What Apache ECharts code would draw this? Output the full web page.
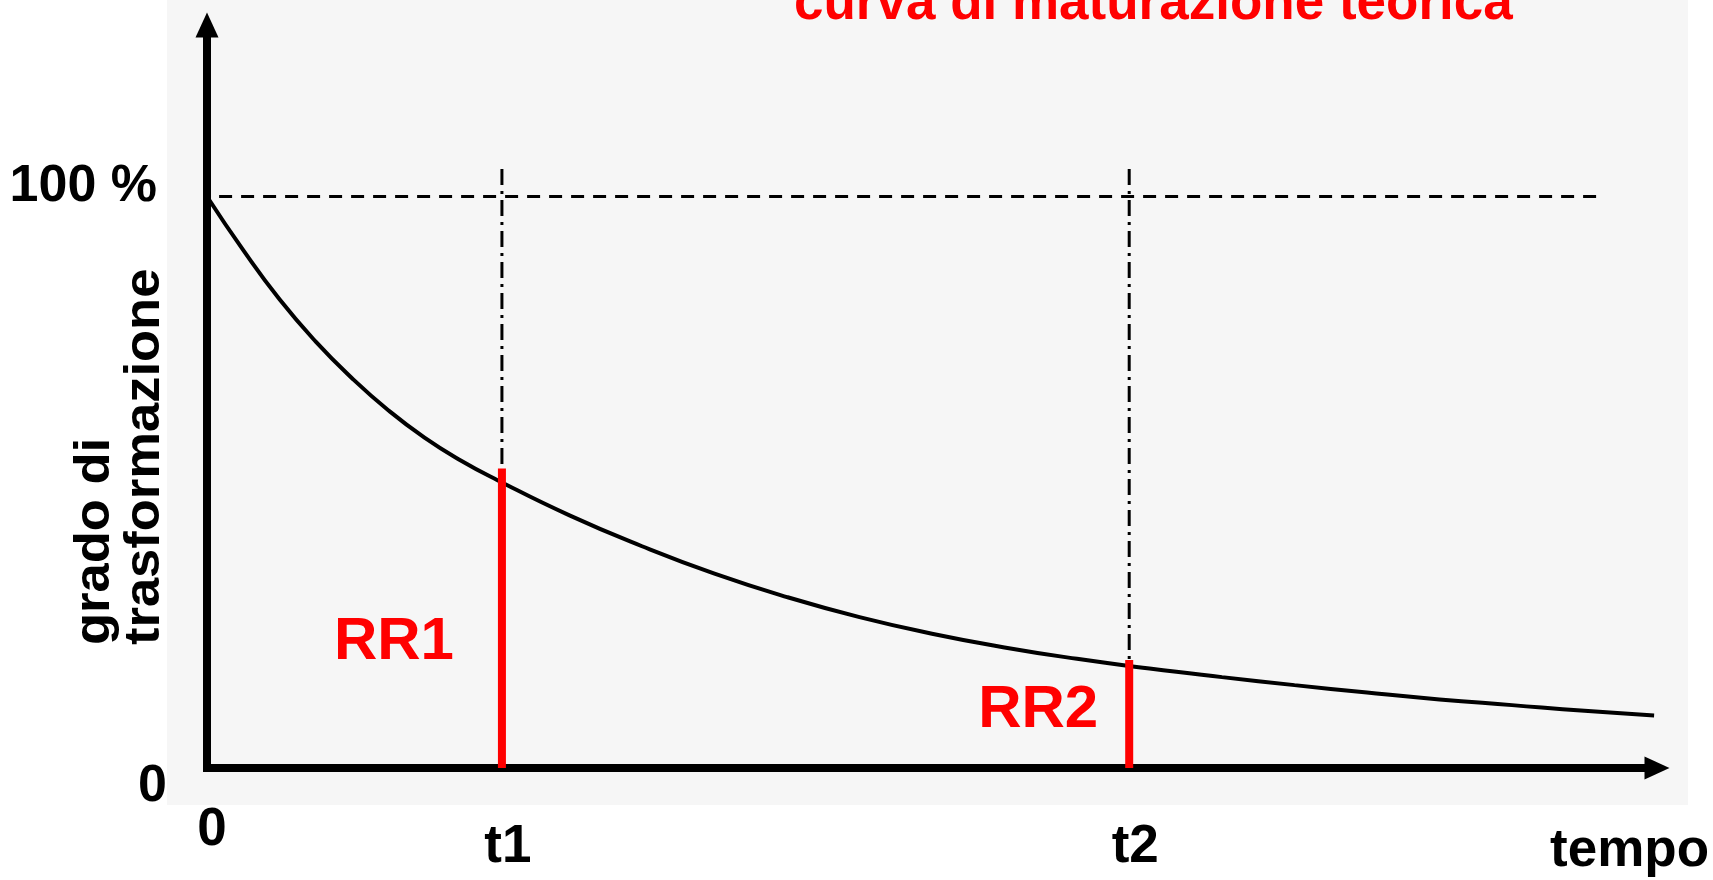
<!DOCTYPE html>
<html><head><meta charset="utf-8">
<script src="https://cdn.jsdelivr.net/npm/echarts@6/dist/echarts.min.js"></script>
<style>html,body{margin:0;padding:0;background:#fff}#c{width:1713px;height:880px}</style>
</head><body><div id="c"></div>
<script>
// ---- data ----
const titleText = 'curva di maturazione teorica';
const yAxisTitle = ['grado di', 'trasformazione'];
const xAxisTitle = 'tempo';
const yTickValues = [0, 100];
const yTickLabels = ['0', '100 %'];
const xTickValues = [0, 20.34, 63.6];
const xTickLabels = ['0', 't1', 't2'];
const curveX = [0, 2.5, 5, 7.5, 10, 12.5, 15, 17.5, 20, 25, 30, 35, 40, 45, 50, 55, 60, 65, 70, 75, 80, 85, 90, 95, 99.8];
const curveY = [100, 90.6, 82.0, 74.6, 68.2, 62.6, 57.8, 53.8, 50.4, 44.2, 38.8, 34.0, 29.9, 26.4, 23.5, 21.1, 19.1, 17.4, 15.9, 14.5, 13.2, 12.0, 11.0, 10.0, 9.2];
const markerNames = ['RR1', 'RR2'];
const markerTimes = [20.34, 63.6];
const markerLevels = [52.4, 18.9];
const guideTop = 104.8;
const fullLevel = 100;
const fullLineX = [-2.2, 95.9];
const xMax = 100, yMax = 130;

// ---- styles ----
const FONT = '"Liberation Sans", Arial, sans-serif';
const markerLabelStyle = [
  { distance: 44, offset: [0, 24] },
  { distance: 27, offset: [0, -4] }
];

const chart = echarts.init(document.getElementById('c'));

const curveData = curveX.map((x, i) => [x, curveY[i]]);
const guideSeries = markerTimes.map((t, i) => ({
  type: 'line', silent: true, symbol: 'none', z: 1,
  data: [[t, guideTop], [t, markerLevels[i]]],
  lineStyle: { color: '#000', width: 3, type: [16, 6, 3, 6] }
}));
const barData = markerTimes.map((t, i) => ({
  value: [t, markerLevels[i]],
  label: Object.assign({ formatter: markerNames[i] }, markerLabelStyle[i])
}));

function nearIdx(arr, v) {
  for (let i = 0; i < arr.length; i++) if (Math.abs(arr[i] - v) < 1e-6) return i;
  return -1;
}

chart.setOption({
  backgroundColor: '#ffffff',
  animation: false,
  title: {
    text: titleText, left: 794, top: -22, padding: 0,
    textStyle: { color: '#ff0000', fontSize: 53, fontWeight: 'bold', fontFamily: FONT }
  },
  grid: { left: 207, right: 56, top: 25, bottom: 112, containLabel: false, outerBoundsMode: 'none' },
  xAxis: {
    type: 'value', min: 0, max: xMax,
    splitLine: { show: false }, axisTick: { show: false },
    axisLine: { symbol: ['none', 'triangle'], symbolSize: [23, 25],
      lineStyle: { color: '#000', width: 8, cap: 'square' } },
    axisLabel: {
      customValues: xTickValues, margin: 34,
      formatter: v => { const i = nearIdx(xTickValues, v); const s = i < 0 ? '' : xTickLabels[i]; return i === 0 ? '{z|' + s + '}' : '{t|' + s + '}'; },
      rich: {
        z: { fontSize: 53, fontWeight: 'bold', fontFamily: FONT, color: '#000', lineHeight: 53, padding: [3, 0, 0, 10] },
        t: { fontSize: 53, fontWeight: 'bold', fontFamily: FONT, color: '#000', lineHeight: 53, padding: [38, 0, 0, 12] }
      }
    },
    name: xAxisTitle, nameLocation: 'end', nameGap: -107,
    nameTextStyle: { fontSize: 53, fontWeight: 'bold', fontFamily: FONT, color: '#000', align: 'left', verticalAlign: 'top', lineHeight: 166 }
  },
  yAxis: {
    type: 'value', min: 0, max: yMax,
    splitLine: { show: false }, axisTick: { show: false },
    axisLine: { symbol: ['none', 'triangle'], symbolSize: [23, 25],
      lineStyle: { color: '#000', width: 8, cap: 'square' } },
    axisLabel: {
      customValues: yTickValues, margin: 40,
      formatter: v => { const i = nearIdx(yTickValues, v); const s = i < 0 ? '' : yTickLabels[i]; return i === 0 ? '{lo|' + s + '}' : '{hi|' + s + '}'; },
      rich: {
        lo: { fontSize: 52, fontWeight: 'bold', fontFamily: FONT, color: '#000', lineHeight: 52, padding: [38, 0, 0, 0] },
        hi: { fontSize: 52, fontWeight: 'bold', fontFamily: FONT, color: '#000', lineHeight: 52, padding: [0, 10, 20, 0] }
      }
    }
  },
  graphic: [
    { type: 'rect', z: -10, silent: true, shape: { x: 167, y: 0, width: 1521, height: 805 }, style: { fill: '#f6f6f6' } },
    { type: 'text', x: 120, y: 645, rotation: Math.PI / 2, scaleX: 1.05, silent: true,
      style: { text: yAxisTitle.join('\n'), fontSize: 50, fontWeight: 'bold', fontFamily: FONT, fill: '#000', align: 'left', verticalAlign: 'middle', lineHeight: 50 } }
  ],
  series: [
    { type: 'line', silent: true, symbol: 'none', clip: false, z: 1,
      data: fullLineX.map(x => [x, fullLevel]),
      lineStyle: { color: '#000', width: 3, type: [13, 9] } },
    ...guideSeries,
    { type: 'line', silent: true, symbol: 'none', smooth: 0.5, z: 3,
      data: curveData, lineStyle: { color: '#000', width: 4 } },
    { type: 'bar', silent: true, barWidth: 8, z: 4,
      itemStyle: { color: '#ff0000' },
      label: { show: true, position: 'left', color: '#ff0000', fontSize: 60, fontWeight: 'bold', fontFamily: FONT },
      data: barData }
  ]
});
</script></body></html>
